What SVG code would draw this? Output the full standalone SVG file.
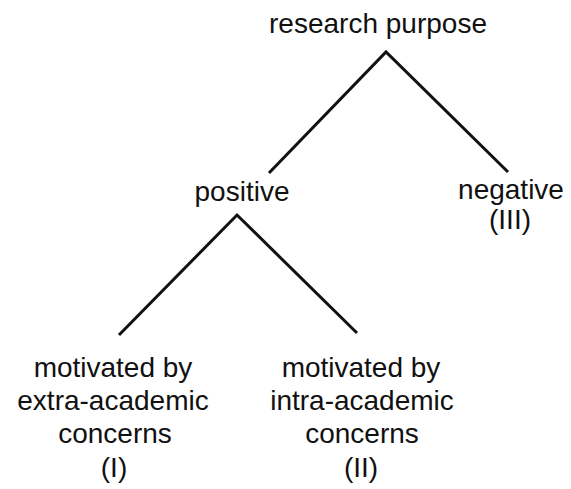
<svg xmlns="http://www.w3.org/2000/svg" width="571" height="489" viewBox="0 0 571 489">
<style>
text{font-family:"Liberation Sans",Arial,sans-serif;font-size:28px;fill:#111;text-anchor:middle}
.edge{stroke:#111;stroke-width:3;fill:none;stroke-linecap:butt}
</style>
<rect width="571" height="489" fill="#fff"/>
<g id="connectors">
<polyline class="edge" points="269,173 386,52 508,172"/>
<polyline class="edge" points="119,335 237,215 357,333"/>
</g>
<g id="research-purpose"><text x="378" y="33">research purpose</text></g>
<g id="positive"><text x="242" y="201">positive</text></g>
<g id="negative"><text x="511" y="199">negative</text><text x="510" y="229">(III)</text></g>
<g id="extra-academic"><text x="113" y="377">motivated by</text><text x="113" y="410">extra-academic</text><text x="115" y="443">concerns</text><text x="114" y="477">(I)</text></g>
<g id="intra-academic"><text x="361" y="377">motivated by</text><text x="362" y="410">intra-academic</text><text x="362" y="443">concerns</text><text x="361" y="477">(II)</text></g>
</svg>
